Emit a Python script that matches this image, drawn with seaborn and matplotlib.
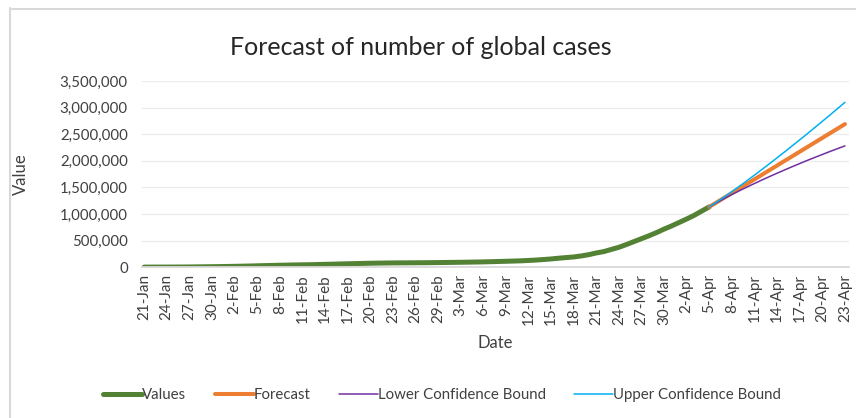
import matplotlib
matplotlib.use("Agg")
import matplotlib.pyplot as plt
import matplotlib.dates as mdates
import matplotlib.ticker as mticker
import seaborn as sns
import pandas as pd

# daily global cases, 21-Jan .. 5-Apr
values = [
    282, 314, 581, 846, 1320, 2014, 2798, 4593, 6065, 7818, 9826,
    11953, 14557, 17391, 20630, 24554, 28276, 31481, 34886, 37558, 40554,
    43103, 45171, 48500, 52000, 55500, 59000, 62500, 66000, 69500, 72500,
    75000, 77000, 78800, 79900, 80700, 81500, 82400, 83650, 85400,
    87137, 88948, 90870, 93090, 95333, 98192, 101927, 105586, 109577, 113702,
    118319, 125048, 132758, 142539, 153517, 167511, 179111, 191127, 209839,
    234073, 266073, 292142, 332930, 372757, 425000, 480000, 535000, 590000,
    650000, 715000, 775000, 840000, 905000, 975000, 1055000, 1133758,
]

# forecast 5-Apr .. 23-Apr
forecast = [
    1133758, 1220300, 1306800, 1393300, 1479800, 1566300, 1652800, 1739300,
    1825800, 1912300, 1998800, 2085300, 2171800, 2258300, 2344800, 2431300,
    2517800, 2604300, 2690800,
]
lower = [
    1133758, 1214900, 1291600, 1365400, 1436800, 1506300, 1573800, 1639800,
    1704300, 1767300, 1828800, 1889300, 1948800, 2007300, 2063800, 2119300,
    2174800, 2228300, 2280800,
]
upper = [
    1133758, 1225700, 1322000, 1421200, 1522800, 1626300, 1731800, 1838800,
    1947300, 2057300, 2168800, 2281300, 2394800, 2509300, 2625800, 2743300,
    2860800, 2980300, 3100800,
]

dates_hist = pd.date_range("2020-01-21", periods=len(values), freq="D")
dates_fc = pd.date_range("2020-04-05", periods=len(forecast), freq="D")

hist = pd.DataFrame({"date": dates_hist, "value": values})
fc = pd.DataFrame({"date": dates_fc, "forecast": forecast,
                   "lower": lower, "upper": upper})

sns.set_style("white")
plt.rcParams["font.family"] = ["Lato", "DejaVu Sans"]
txt = "#404040"

fig = plt.figure(figsize=(8.56, 4.18), dpi=100)
ax = fig.add_axes([0.1655, 0.361, 0.826, 0.445])

sns.lineplot(data=hist, x="date", y="value", ax=ax, color="#548235",
             linewidth=3.6, label="Values")
sns.lineplot(data=fc, x="date", y="forecast", ax=ax, color="#ED7D31",
             linewidth=2.9, label="Forecast")
sns.lineplot(data=fc, x="date", y="lower", ax=ax, color="#7030A0",
             linewidth=1.1, label="Lower Confidence Bound")
sns.lineplot(data=fc, x="date", y="upper", ax=ax, color="#00B0F0",
             linewidth=1.1, label="Upper Confidence Bound")

ax.set_ylim(0, 3500000)
ax.set_xlim(pd.Timestamp("2020-01-20 16:00"), pd.Timestamp("2020-04-23 12:00"))
ax.yaxis.set_major_locator(mticker.MultipleLocator(500000))
ax.yaxis.set_major_formatter(mticker.FuncFormatter(lambda v, p: f"{int(v):,}"))
ax.set_xticks(pd.date_range("2020-01-21", "2020-04-23", freq="3D"))
ax.xaxis.set_major_formatter(mdates.DateFormatter("%-d-%b"))
ax.tick_params(axis="x", rotation=90, labelsize=11, colors=txt, length=0, pad=5)
ax.tick_params(axis="y", labelsize=10.8, colors=txt, length=0, pad=10)

ax.grid(axis="y", color="#EBEBEB", linewidth=0.9)
ax.set_axisbelow(True)
for s in ["top", "right", "left"]:
    ax.spines[s].set_visible(False)
ax.spines["bottom"].set_color("#D9D9D9")
ax.spines["bottom"].set_linewidth(1.3)

ax.set_xlabel("Date", fontsize=12, color=txt, labelpad=7)
ax.set_ylabel("Value", fontsize=12, color=txt, labelpad=4)
ax.yaxis.set_label_coords(-0.16, 0.5)

fig.suptitle("Forecast of number of global cases", x=0.492, y=0.915,
             fontsize=18, color="#262626")

ax.legend(loc="center", bbox_to_anchor=(0.425, -0.69), ncol=4,
          frameon=False, fontsize=10.8, handlelength=2.6, handletextpad=0.0,
          columnspacing=1.9, labelcolor=txt)

# chart border (left and top edges visible)
fig.add_artist(plt.Line2D([9.5 / 856, 9.5 / 856], [0, 1 - 8 / 418],
                          transform=fig.transFigure, color="#D9D9D9", lw=1.5))
fig.add_artist(plt.Line2D([9.5 / 856, 1], [1 - 8.5 / 418, 1 - 8.5 / 418],
                          transform=fig.transFigure, color="#D9D9D9", lw=1.5))

fig.savefig("out.png", dpi=100)
